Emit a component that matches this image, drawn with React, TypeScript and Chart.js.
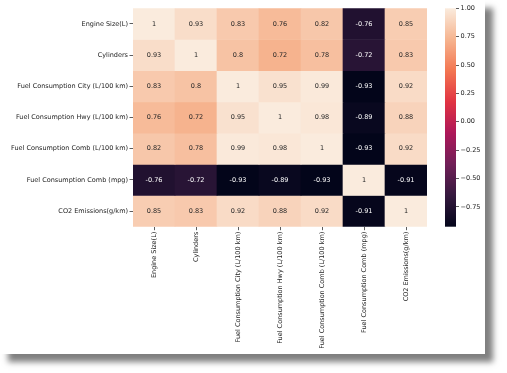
import React, { useEffect, useRef } from "react";
import { Chart, registerables } from "chart.js";

Chart.register(...registerables);

const labels = [
  "Engine Size(L)",
  "Cylinders",
  "Fuel Consumption City (L/100 km)",
  "Fuel Consumption Hwy (L/100 km)",
  "Fuel Consumption Comb (L/100 km)",
  "Fuel Consumption Comb (mpg)",
  "CO2 Emissions(g/km)",
];

const engineSize = [1, 0.93, 0.83, 0.76, 0.82, -0.76, 0.85];
const cylinders = [0.93, 1, 0.8, 0.72, 0.78, -0.72, 0.83];
const fuelCity = [0.83, 0.8, 1, 0.95, 0.99, -0.93, 0.92];
const fuelHwy = [0.76, 0.72, 0.95, 1, 0.98, -0.89, 0.88];
const fuelComb = [0.82, 0.78, 0.99, 0.98, 1, -0.93, 0.92];
const fuelMpg = [-0.76, -0.72, -0.93, -0.89, -0.93, 1, -0.91];
const co2 = [0.85, 0.83, 0.92, 0.88, 0.92, -0.91, 1];

const matrix = [engineSize, cylinders, fuelCity, fuelHwy, fuelComb, fuelMpg, co2];

const colorbarTicks = [-0.75, -0.5, -0.25, 0, 0.25, 0.5, 0.75, 1];
const vmin = -0.925;
const vmax = 1;

// seaborn "rocket" colormap anchors
const ROCKET: [number, number, number][] = [
  [3, 5, 26],
  [53, 25, 62],
  [112, 31, 87],
  [173, 23, 89],
  [225, 51, 66],
  [243, 118, 81],
  [246, 180, 143],
  [250, 235, 221],
];

function rocketRGB(t: number): [number, number, number] {
  const tt = Math.max(0, Math.min(1, t)) * (ROCKET.length - 1);
  const i = Math.min(ROCKET.length - 2, Math.floor(tt));
  const f = tt - i;
  const a = ROCKET[i];
  const b = ROCKET[i + 1];
  return [0, 1, 2].map((k) => a[k] + (b[k] - a[k]) * f) as [number, number, number];
}
function rgbStr(c: [number, number, number]) {
  return `rgb(${Math.round(c[0])},${Math.round(c[1])},${Math.round(c[2])})`;
}
function lum(c: [number, number, number]) {
  const l = c.map((v) => {
    const s = v / 255;
    return s <= 0.03928 ? s / 12.92 : Math.pow((s + 0.055) / 1.055, 2.4);
  });
  return 0.2126 * l[0] + 0.7152 * l[1] + 0.0722 * l[2];
}
const norm = (v: number) => (v - vmin) / (vmax - vmin);

const FONT = { family: "'DejaVu Sans', sans-serif", size: 6.5 };
const TEXT = "#222222";
const TOP = 8.3;
const BOTTOM_AXIS = 373 - 226.7;

const annotPlugin = {
  id: "annot",
  afterDatasetsDraw(chart: any) {
    const ctx = chart.ctx;
    ctx.save();
    ctx.font = `${FONT.size}px ${FONT.family}`;
    ctx.textAlign = "center";
    ctx.textBaseline = "middle";
    chart.data.datasets.forEach((ds: any, di: number) => {
      const meta = chart.getDatasetMeta(di);
      meta.data.forEach((el: any, j: number) => {
        const v = matrix[di][j];
        const c = rocketRGB(norm(v));
        ctx.fillStyle = lum(c) > 0.408 ? "#262626" : "#ffffff";
        ctx.fillText(String(v), el.x, (el.y + el.base) / 2);
      });
    });
    ctx.restore();
  },
};

const gradientPlugin = {
  id: "cbar",
  beforeDatasetsDraw(chart: any) {
    const { ctx, chartArea, scales } = chart;
    const y = scales.y;
    const yTop = y.getPixelForValue(vmax);
    const yBot = y.getPixelForValue(vmin);
    const g = ctx.createLinearGradient(0, yBot, 0, yTop);
    ROCKET.forEach((c, i) => g.addColorStop(i / (ROCKET.length - 1), rgbStr(c)));
    ctx.save();
    ctx.fillStyle = g;
    ctx.fillRect(chartArea.left, yTop, chartArea.right - chartArea.left, yBot - yTop);
    ctx.restore();
  },
};

export default function App() {
  const heatRef = useRef<HTMLCanvasElement>(null);
  const barRef = useRef<HTMLCanvasElement>(null);

  useEffect(() => {
    const heat = new Chart(heatRef.current!, {
      type: "bar",
      data: {
        labels,
        datasets: matrix.map((row, i) => ({
          label: labels[i],
          data: row.map(() => [i, i + 1]),
          backgroundColor: row.map((v) => rgbStr(rocketRGB(norm(v)))),
          borderWidth: 0,
          barPercentage: 1,
          categoryPercentage: 1,
        })),
      } as any,
      options: {
        animation: false,
        responsive: false,
        maintainAspectRatio: false,
        layout: { padding: { top: TOP, right: 80, left: 0, bottom: 0 } },
        plugins: { legend: { display: false }, tooltip: { enabled: false } },
        scales: {
          x: {
            stacked: true,
            offset: true,
            grid: { drawOnChartArea: false, offset: false, tickLength: 3.5, color: "#333", tickWidth: 0.8 } as any,
            border: { display: false },
            ticks: { maxRotation: 90, minRotation: 90, autoSkip: false, font: FONT, color: TEXT, padding: 1.5 },
            afterFit: (s: any) => {
              s.height = BOTTOM_AXIS;
            },
          },
          y: {
            min: 0,
            max: 7,
            reverse: true,
            grid: { drawOnChartArea: false, tickLength: 3.5, color: "#333", tickWidth: 0.8 } as any,
            border: { display: false },
            afterBuildTicks: (s: any) => {
              s.ticks = labels.map((_, i) => ({ value: i + 0.5 }));
            },
            ticks: {
              font: FONT,
              color: TEXT,
              padding: 1.5,
              callback: (v: any) => labels[Math.floor(Number(v))],
            },
            afterFit: (s: any) => {
              s.width = 133;
            },
          },
        },
      } as any,
      plugins: [annotPlugin],
    });

    const cbar = new Chart(barRef.current!, {
      type: "scatter",
      data: { datasets: [] },
      options: {
        animation: false,
        responsive: false,
        maintainAspectRatio: false,
        layout: { padding: { top: TOP, bottom: BOTTOM_AXIS, left: 0, right: 0 } },
        plugins: { legend: { display: false }, tooltip: { enabled: false } },
        scales: {
          x: { display: false, min: 0, max: 1 },
          y: {
            position: "right",
            min: vmin,
            max: vmax,
            grid: { drawOnChartArea: false, tickLength: 3, color: "#333", tickWidth: 0.8 } as any,
            border: { display: false },
            afterBuildTicks: (s: any) => {
              s.ticks = colorbarTicks.map((v) => ({ value: v }));
            },
            ticks: {
              font: FONT,
              color: TEXT,
              padding: 1.5,
              callback: (v: any) => {
                const n = Number(v);
                const s = Math.abs(n).toFixed(2);
                return n < 0 ? "\u2212" + s : s;
              },
            },
            afterFit: (s: any) => {
              s.width = 49;
            },
          },
        },
      } as any,
      plugins: [gradientPlugin],
    });

    return () => {
      heat.destroy();
      cbar.destroy();
    };
  }, []);

  return (
    <div style={{ position: "absolute", left: 0, top: 0, width: 507, height: 373, background: "#fff", overflow: "hidden" }}>
      <div
        style={{
          position: "absolute",
          left: 0,
          top: 0,
          width: 485,
          height: 354,
          background: "#fff",
          boxShadow: "8px 8px 6px rgba(0,0,0,0.5)",
        }}
      />
      <canvas ref={heatRef} width={507} height={373} style={{ position: "absolute", left: 0, top: 0, width: 507, height: 373 }} />
      <canvas ref={barRef} width={60} height={373} style={{ position: "absolute", left: 445, top: 0, width: 60, height: 373 }} />
    </div>
  );
}
